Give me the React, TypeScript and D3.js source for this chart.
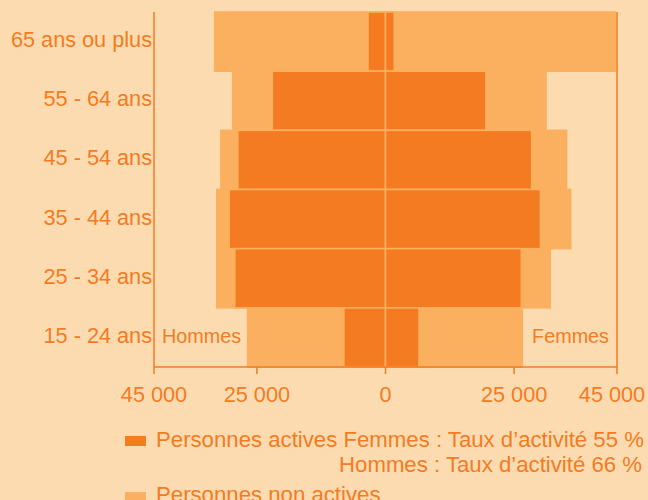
import * as d3 from 'd3'

// tranches d'âge, du haut vers le bas
const categories = [
  '65 ans ou plus',
  '55 - 64 ans',
  '45 - 54 ans',
  '35 - 44 ans',
  '25 - 34 ans',
  '15 - 24 ans',
]
const hommesTotal = [33200, 29700, 32000, 32800, 32800, 26800]
const hommesActifs = [3400, 22000, 28700, 30400, 29300, 8100]
const femmesTotal = [44700, 31200, 35200, 36000, 32000, 26600]
const femmesActives = [1700, 19500, 28400, 30100, 26400, 6500]
const tickValues = [-45000, -25000, 0, 25000, 45000]
const tickLabels = ['45 000', '25 000', '0', '25 000', '45 000']

const width = 648
const height = 500
const bg = '#FDDBB1'
const light = '#FAB05E'
const dark = '#F47B21'
const font = 'Liberation Sans, Arial, sans-serif'

export default function App() {
  const marginLeft = 154
  const marginRight = 31
  const marginTop = 12
  const plotBottom = 367

  const x = d3.scaleLinear([-45000, 45000], [marginLeft, width - marginRight])
  const y = d3
    .scaleBand<string>()
    .domain(categories)
    .range([marginTop, plotBottom])
    .padding(0)
  const bh = y.bandwidth()

  const bar = (
    key: string,
    cat: string,
    value: number,
    side: -1 | 1,
    fill: string
  ) => {
    const x0 = x(0)
    const x1 = x(side * value)
    return (
      <rect
        key={key}
        x={Math.min(x0, x1)}
        y={y(cat)}
        width={Math.abs(x1 - x0)}
        height={bh}
        fill={fill}
        stroke={light}
        strokeWidth={1.6}
      />
    )
  }

  return (
    <div style={{ position: 'absolute', left: 0, top: 0 }}>
      <svg width={width} height={height} style={{ display: 'block' }}>
        <rect width={width} height={height} fill={bg} />
        <g>
          {categories.map((c, i) => bar('ht' + i, c, hommesTotal[i], -1, light))}
          {categories.map((c, i) => bar('ft' + i, c, femmesTotal[i], 1, light))}
          {categories.map((c, i) => bar('ha' + i, c, hommesActifs[i], -1, dark))}
          {categories.map((c, i) => bar('fa' + i, c, femmesActives[i], 1, dark))}
        </g>
        {/* cadre : axes gauche, droit et bas */}
        <line x1={x(-45000)} x2={x(-45000)} y1={marginTop} y2={plotBottom} stroke={dark} strokeWidth={1.5} />
        <line x1={x(45000)} x2={x(45000)} y1={marginTop} y2={plotBottom} stroke={dark} strokeWidth={1.5} />
        <line x1={x(-45000)} x2={x(45000)} y1={plotBottom} y2={plotBottom} stroke={dark} strokeWidth={1.5} />
        {tickValues.map((v, i) => (
          <g key={i}>
            <line x1={x(v)} x2={x(v)} y1={plotBottom} y2={plotBottom + 7} stroke={dark} strokeWidth={1.5} />
            <text
              x={x(v)}
              y={402}
              dx={i === tickValues.length - 1 ? -5 : 0}
              textAnchor="middle"
              fill={dark}
              fontFamily={font}
              fontSize={21.7}
            >
              {tickLabels[i]}
            </text>
          </g>
        ))}
        {categories.map((c) => (
          <text
            key={c}
            x={marginLeft - 2}
            y={(y(c) ?? 0) + bh / 2}
            dy="0.25em"
            textAnchor="end"
            fill={dark}
            fontFamily={font}
            fontSize={21.7}
          >
            {c}
          </text>
        ))}
        <text x={162} y={343} fill={dark} fontFamily={font} fontSize={19.8}>
          Hommes
        </text>
        <text x={609} y={343} textAnchor="end" fill={dark} fontFamily={font} fontSize={19.8}>
          Femmes
        </text>
        {/* légende */}
        <rect x={125} y={436} width={21} height={10} fill={dark} />
        <text x={156} y={447} fill={dark} fontFamily={font} fontSize={22.2}>
          Personnes actives Femmes : Taux d’activité 55 %
        </text>
        <text x={642} y={472} textAnchor="end" fill={dark} fontFamily={font} fontSize={22.2}>
          Hommes : Taux d’activité 66 %
        </text>
        <rect x={125} y={492} width={21} height={10} fill={light} />
        <text x={156} y={502} fill={dark} fontFamily={font} fontSize={22.2}>
          Personnes non actives
        </text>
      </svg>
    </div>
  )
}
